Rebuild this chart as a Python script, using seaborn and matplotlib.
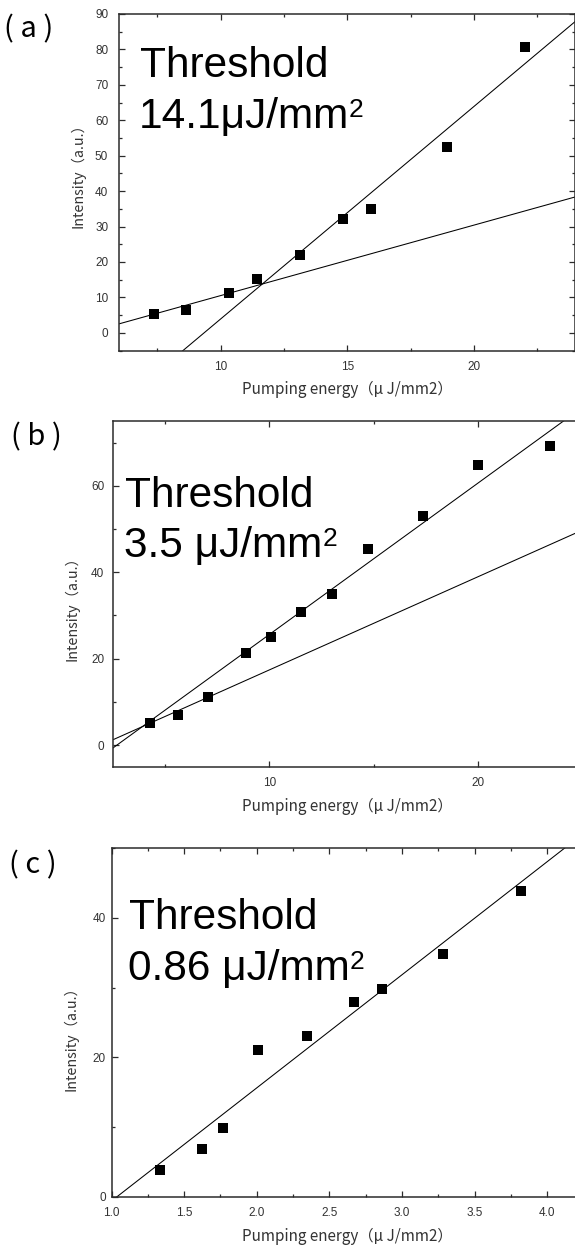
import matplotlib
matplotlib.use("Agg")
import matplotlib.pyplot as plt
from matplotlib import font_manager
from matplotlib.ticker import MultipleLocator
import numpy as np
import pandas as pd
import seaborn as sns

# ---- data -------------------------------------------------------------
# (a)
energy_a = [7.38, 8.64, 10.34, 11.43, 13.12, 14.83, 15.92, 18.95, 22.03]
intensity_a = [5.4, 6.5, 11.2, 15.2, 21.9, 32.1, 35.0, 52.4, 80.8]
fit_slopes_a = [1.99, 6.0]
fit_intercepts_a = [-9.4, -56.1]
threshold_a = "14.1μJ/mm"

# (b)
energy_b = [4.30, 5.65, 7.05, 8.88, 10.07, 11.49, 13.0, 14.70, 17.37, 20.0, 23.42]
intensity_b = [5.0, 6.9, 11.2, 21.2, 25.0, 30.9, 34.9, 45.3, 53.1, 64.8, 69.2]
fit_slopes_b = [3.51, 2.16]
fit_intercepts_b = [-9.5, -4.2]
threshold_b = "3.5 μJ/mm"

# (c)
energy_c = [1.334, 1.625, 1.769, 2.005, 2.344, 2.670, 2.862, 3.280, 3.819]
intensity_c = [3.8, 6.85, 9.8, 21.0, 23.0, 27.9, 29.8, 34.8, 43.9]
fit_slopes_c = [16.24]
fit_intercepts_c = [-16.86]
threshold_c = "0.86 μJ/mm"

unit_power = "2"
panel_tags = ["( a )", "( b )", "( c )"]
x_label = "Pumping energy（μ J/mm2）"
y_label = "Intensity（a.u.）"

# ---- style ------------------------------------------------------------
sns.set_theme(style="ticks")
available = {f.name for f in font_manager.fontManager.ttflist}
tick_family = "Liberation Sans Narrow" if "Liberation Sans Narrow" in available else "Liberation Sans"
plt.rcParams["font.family"] = ["Liberation Sans", "DejaVu Sans"]
cjk = ["Noto Sans CJK JP", "DejaVu Sans"]
ink = "#2b2b2b"

W, H = 575, 1251
fig = plt.figure(figsize=(W / 100, H / 100), dpi=100)
renderer = fig.canvas.get_renderer()


def box(left, top, right, bottom):
    return [left / W, 1 - bottom / H, (right - left) / W, (bottom - top) / H]


panels = [
    dict(rect=box(119.3, 14.0, 575.3, 350.5), xlim=(6, 24), ylim=(-5, 90),
         xmaj=5, xmin=2.5, ymaj=10, ymin=5, xfmt="{:.0f}",
         x=energy_a, y=intensity_a, m=fit_slopes_a, b=fit_intercepts_a,
         thr=threshold_a, text_x=(140, 139), text_y=(76.7, 128.3),
         tag_xy=(4, 29), ylab_xy=(-0.090, 0.529), xlab_y=-0.117, ypad=8),
    dict(rect=box(112.6, 421.0, 582.9, 766.7), xlim=(2.5, 25), ylim=(-5, 75),
         xmaj=10, xmin=5, ymaj=20, ymin=10, xfmt="{:.0f}",
         x=energy_b, y=intensity_b, m=fit_slopes_b, b=fit_intercepts_b,
         thr=threshold_b, text_x=(125.5, 124.5), text_y=(507.3, 556.7),
         tag_xy=(11, 437), ylab_xy=(-0.087, 0.466), xlab_y=-0.116, ypad=6),
    dict(rect=box(111.5, 848.3, 583.7, 1196.7), xlim=(1.0, 4.25), ylim=(0, 50),
         xmaj=0.5, xmin=0.25, ymaj=20, ymin=10, xfmt="{:.1f}",
         x=energy_c, y=intensity_c, m=fit_slopes_c, b=fit_intercepts_c,
         thr=threshold_c, text_x=(129.5, 128), text_y=(929.3, 980.0),
         tag_xy=(9, 865), ylab_xy=(-0.086, 0.464), xlab_y=-0.113, ypad=4),
]

for p, tag in zip(panels, panel_tags):
    ax = fig.add_axes(p["rect"])
    ax.set_xlim(*p["xlim"])
    ax.set_ylim(*p["ylim"])

    # straight-line fits across the full x range
    xs = np.array(p["xlim"], dtype=float)
    for slope, icpt in zip(p["m"], p["b"]):
        line = pd.DataFrame({"x": xs, "y": slope * xs + icpt})
        sns.lineplot(data=line, x="x", y="y", ax=ax, color="black",
                     linewidth=0.75, zorder=2)

    pts = pd.DataFrame({"energy": p["x"], "intensity": p["y"]})
    sns.scatterplot(data=pts, x="energy", y="intensity", ax=ax, marker="s",
                    s=46, color="black", edgecolor="black", linewidth=0,
                    zorder=3)

    ax.set_xlim(*p["xlim"])
    ax.set_ylim(*p["ylim"])
    ax.xaxis.set_major_locator(MultipleLocator(p["xmaj"]))
    ax.xaxis.set_minor_locator(MultipleLocator(p["xmin"]))
    ax.yaxis.set_major_locator(MultipleLocator(p["ymaj"]))
    ax.yaxis.set_minor_locator(MultipleLocator(p["ymin"]))
    ax.xaxis.set_major_formatter(lambda v, pos, f=p["xfmt"]: f.format(v))
    ax.yaxis.set_major_formatter(lambda v, pos: f"{v:.0f}")

    ax.tick_params(which="both", direction="in", top=True, right=True,
                   color=ink, width=0.9)
    ax.tick_params(which="major", length=4)
    ax.tick_params(which="minor", length=2)
    ax.tick_params(axis="x", which="major", pad=7.5)
    ax.tick_params(axis="y", which="major", pad=p["ypad"])
    for lab in ax.get_xticklabels() + ax.get_yticklabels():
        lab.set_fontfamily(tick_family)
        lab.set_fontsize(8.5)
        lab.set_color("#333333")
    for sp in ax.spines.values():
        sp.set_visible(True)
        sp.set_color(ink)
        sp.set_linewidth(1.1)

    ax.set_xlabel(x_label, family=cjk, fontsize=11, color="#333333")
    ax.set_ylabel(y_label, family=cjk, fontsize=10.3, color="#333333")
    ax.xaxis.set_label_coords(0.5, p["xlab_y"])
    ax.xaxis.label.set_verticalalignment("center")
    ax.yaxis.set_label_coords(*p["ylab_xy"])
    ax.yaxis.label.set_verticalalignment("center")
    ax.yaxis.label.set_rotation_mode("anchor")

    # threshold annotation, with a raised "2" after the unit
    fig.text(p["text_x"][0] / W, 1 - p["text_y"][0] / H, "Threshold",
             fontsize=30.5, color="black", ha="left", va="baseline")
    value = fig.text(p["text_x"][1] / W, 1 - p["text_y"][1] / H, p["thr"],
                     fontsize=30.5, color="black", ha="left", va="baseline")
    ext = value.get_window_extent(renderer)
    fig.text((ext.x1 - 0.5) / W, 1 - (p["text_y"][1] - 11) / H, unit_power,
             fontsize=19, color="black", ha="left", va="baseline")

    fig.text(p["tag_xy"][0] / W, 1 - p["tag_xy"][1] / H, tag, family=cjk,
             fontsize=21, color="black", ha="left", va="center")

fig.savefig("out.png", dpi=100, facecolor="white")
